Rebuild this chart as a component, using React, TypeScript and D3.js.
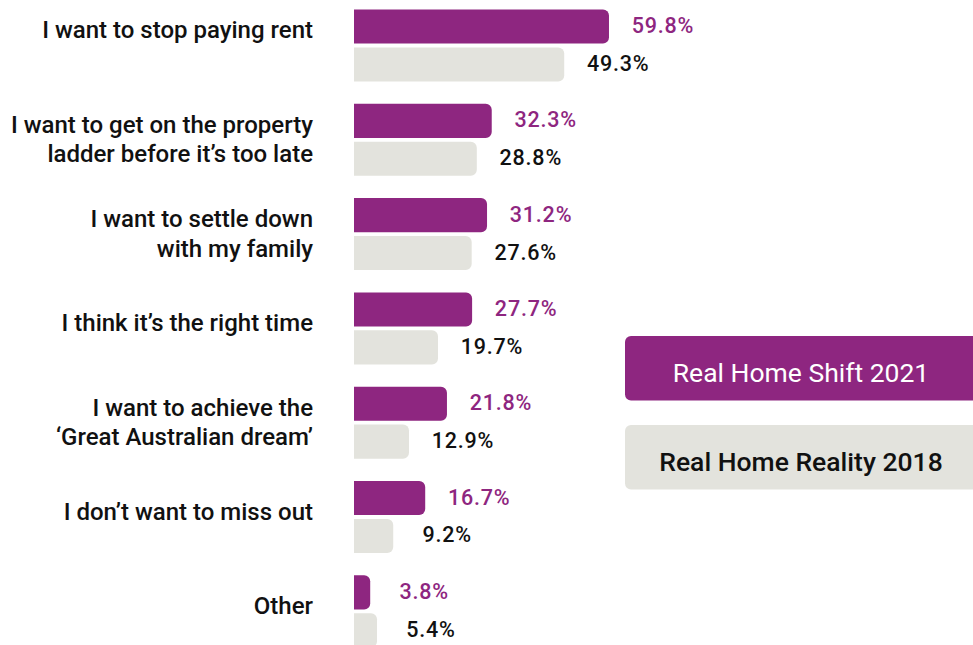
import React from "react";
import * as d3 from "d3";

const categories = [
  "I want to stop paying rent",
  "I want to get on the property\nladder before it’s too late",
  "I want to settle down\nwith my family",
  "I think it’s the right time",
  "I want to achieve the\n‘Great Australian dream’",
  "I don’t want to miss out",
  "Other",
];
const series = ["Real Home Shift 2021", "Real Home Reality 2018"];
const shift2021 = [59.8, 32.3, 31.2, 27.7, 21.8, 16.7, 3.8];
const reality2018 = [49.3, 28.8, 27.6, 19.7, 12.9, 9.2, 5.4];

const W = 973;
const H = 645;
const PURPLE = "#8E2680";
const GREY = "#E3E3DD";
const FONT = "Roboto, 'Noto Sans', sans-serif";

function barPath(x0: number, y: number, w: number, h: number, r: number) {
  const rr = Math.min(r, w, h / 2);
  const p = d3.path();
  p.moveTo(x0, y);
  p.lineTo(x0 + w - rr, y);
  p.arcTo(x0 + w, y, x0 + w, y + rr, rr);
  p.lineTo(x0 + w, y + h - rr);
  p.arcTo(x0 + w, y + h, x0 + w - rr, y + h, rr);
  p.lineTo(x0, y + h);
  p.closePath();
  return p.toString();
}

export default function App() {
  const x = d3.scaleLinear().domain([0, 100]).range([354, 354 + 426.4]);
  const y = d3.scaleBand<string>().domain(categories).range([9.5, 9.5 + 7 * 94.3]).padding(0);
  const sub = d3.scaleBand<string>().domain(series).range([0, 72]).paddingInner(0.1).paddingOuter(0);
  const colors = [PURPLE, GREY];
  const textColors = [PURPLE, "#111"];
  const values = [shift2021, reality2018];

  return (
    <svg width={W} height={H} style={{ position: "absolute", left: 0, top: 0, background: "#fff" }}>
      {categories.map((c, i) => {
        const y0 = y(c)!;
        const lines = c.split("\n");
        const base = lines.length === 1 ? y0 + (i === 0 ? 28.5 : 38.5) : y0 + 29;
        return (
          <g key={c}>
            <text
              x={313}
              textAnchor="end"
              fontFamily={FONT}
              fontWeight={500}
              fontSize={24}
              fill="#111"
            >
              {lines.map((l, k) => (
                <tspan key={k} x={313} y={base + k * 29.5}>
                  {l}
                </tspan>
              ))}
            </text>
            {series.map((s, si) => {
              const v = values[si][i];
              const by = y0 + sub(s)!;
              const bh = sub.bandwidth();
              return (
                <g key={s}>
                  <path d={barPath(x(0), by, x(v) - x(0), bh, 6)} fill={colors[si]} />
                  <text
                    x={x(v) + 54}
                    y={by + bh / 2 + 6.5}
                    textAnchor="middle"
                    fontFamily={FONT}
                    fontWeight={500}
                    fontSize={21.5}
                    letterSpacing={0.8}
                    fill={textColors[si]}
                  >
                    {v.toFixed(1)}%
                  </text>
                </g>
              );
            })}
          </g>
        );
      })}
      {series.map((s, si) => {
        const top = si === 0 ? 336 : 425;
        return (
          <g key={s}>
            <rect x={625} y={top} width={360} height={64.5} rx={6} fill={colors[si]} />
            <text
              x={801}
              y={top + 46}
              textAnchor="middle"
              fontFamily={FONT}
              fontWeight={si === 0 ? 400 : 500}
              fontSize={26.5}
              fill={si === 0 ? "#fff" : "#111"}
            >
              {s}
            </text>
          </g>
        );
      })}
    </svg>
  );
}
